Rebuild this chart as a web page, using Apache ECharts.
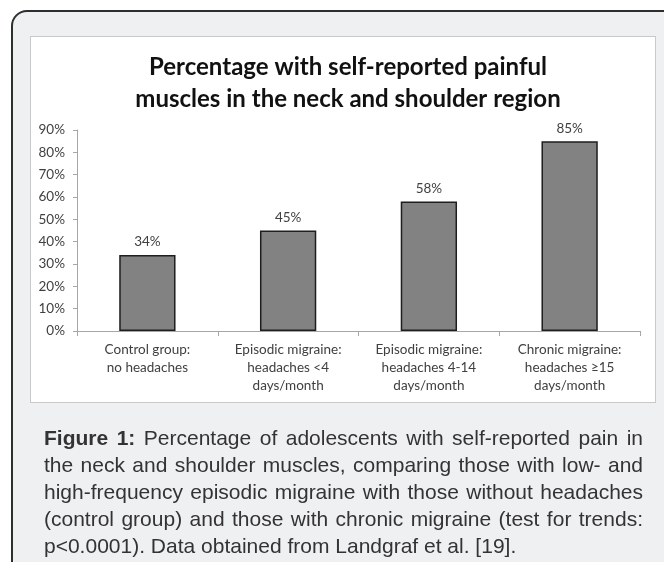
<!DOCTYPE html>
<html>
<head>
<meta charset="utf-8">
<script src="https://cdn.jsdelivr.net/npm/echarts@6/dist/echarts.min.js"></script>
<style>
  html, body { margin: 0; padding: 0; width: 664px; height: 562px; overflow: hidden; background: #ffffff; }
  #frame { position: absolute; left: 11px; top: 10px; width: 720px; height: 570px; box-sizing: border-box;
           border: 2px solid #2e2e2e; border-radius: 16px; background: #eff0f2; }
  #box { position: absolute; left: 30px; top: 36px; width: 626px; height: 367px; box-sizing: border-box;
         border: 1.5px solid #c9c9c9; background: #ffffff; }
  #chart { position: absolute; left: 0; top: 0; width: 664px; height: 562px; }
  #caption { position: absolute; left: 44px; top: 424px; width: 599px; font-family: "Liberation Sans", Arial, sans-serif;
             font-size: 21px; line-height: 27px; color: #333333; }
  #caption div { text-align: justify; text-align-last: justify; white-space: nowrap; }
  #caption div.last { text-align-last: left; }
</style>
</head>
<body>
<div id="frame"></div>
<div id="box"></div>
<div id="chart"></div>
<div id="caption">
  <div><b>Figure 1:</b> Percentage of adolescents with self-reported pain in</div>
  <div>the neck and shoulder muscles, comparing those with low- and</div>
  <div>high-frequency episodic migraine with those without headaches</div>
  <div>(control group) and those with chronic migraine (test for trends:</div>
  <div class="last">p&lt;0.0001). Data obtained from Landgraf et al. [19].</div>
</div>
<script>
const titleText = "Percentage with self-reported painful\nmuscles in the neck and shoulder region";
const categories = [
  "Control group:\nno headaches",
  "Episodic migraine:\nheadaches <4\ndays/month",
  "Episodic migraine:\nheadaches 4-14\ndays/month",
  "Chronic migraine:\nheadaches \u226515\ndays/month"
];
const percentValues = [34, 45, 58, 85];
const yTicks = { min: 0, max: 90, interval: 10 };

const chart = echarts.init(document.getElementById('chart'), null, { renderer: 'canvas' });
const font = 'Lato, "Open Sans", sans-serif';
chart.setOption({
  backgroundColor: 'transparent',
  animation: false,
  title: {
    text: titleText,
    left: 343,
    top: 46,
    textAlign: 'center',
    textStyle: { fontFamily: font, fontSize: 24, fontWeight: 'bold', color: '#111111', lineHeight: 32 }
  },
  grid: { left: 77, right: 24, top: 130, bottom: 231, containLabel: false },
  xAxis: {
    type: 'category',
    data: categories,
    axisLine: { lineStyle: { color: '#a6a6a6', width: 1 } },
    axisTick: { show: true, length: 5, alignWithLabel: false, lineStyle: { color: '#a6a6a6' } },
    axisLabel: { interval: 0, margin: 10, fontFamily: font, fontSize: 13.5, color: '#404040', lineHeight: 18 }
  },
  yAxis: {
    type: 'value',
    min: yTicks.min,
    max: yTicks.max,
    interval: yTicks.interval,
    axisLine: { show: true, lineStyle: { color: '#a6a6a6', width: 1 } },
    axisTick: { show: true, length: 4, lineStyle: { color: '#a6a6a6' } },
    splitLine: { show: false },
    axisLabel: { formatter: '{value}%', margin: 12, fontFamily: font, fontSize: 13.5, color: '#404040' }
  },
  series: [{
    type: 'bar',
    data: percentValues,
    barWidth: '40%',
    itemStyle: { color: '#828282', borderColor: '#1e1e1e', borderWidth: 1.5 },
    label: { show: true, position: 'top', distance: 6, formatter: '{c}%', fontFamily: font, fontSize: 13.5, color: '#404040' }
  }]
});
</script>
</body>
</html>
